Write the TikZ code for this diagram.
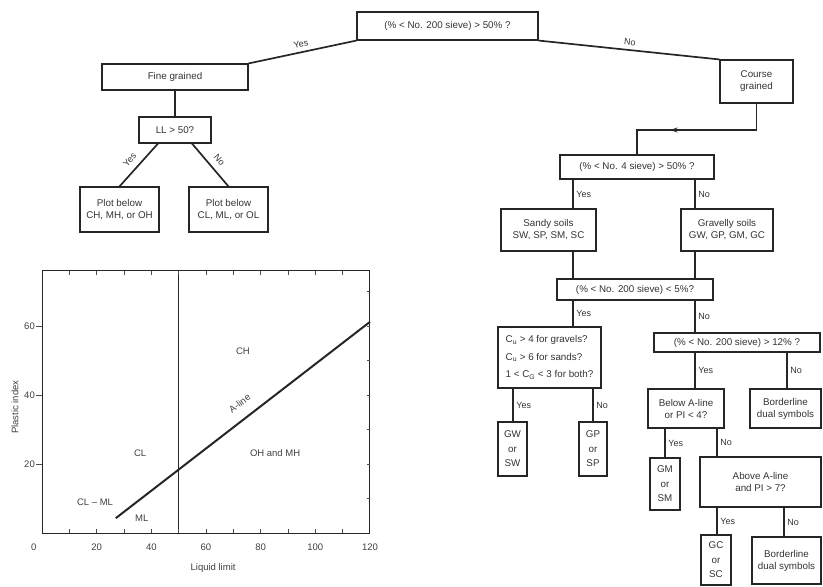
\documentclass[tikz,border=0pt]{standalone}
\usepackage{fontspec}
\setmainfont{Liberation Sans}
\usetikzlibrary{calc,arrows.meta}
\begin{document}
\begin{tikzpicture}[x=1pt,y=-1pt,
  box/.style={draw=black!85, line width=1.1pt, inner sep=1pt, align=center,
    font=\fontsize{9.8}{12}\selectfont, text=black!80},
  conn/.style={draw=black!85, line width=1.7pt},
  lbl/.style={font=\fontsize{9}{10}\selectfont, text=black!80, inner sep=2.5pt},
  slbl/.style={font=\fontsize{9}{10}\selectfont, text=black!80, inner sep=4pt},
  dlbl/.style={font=\fontsize{9}{10}\selectfont, text=black!80, inner sep=1pt},
  axl/.style={font=\fontsize{9.5}{11}\selectfont, text=black!75, inner sep=1pt},
  ]
\useasboundingbox (0,0) rectangle (823,587);

% ---- top part ----
\node[box, minimum width=181pt, minimum height=28pt] (top) at (447.5,26) {(\% < No. 200 sieve) > 50\% ?};
\node[box, minimum width=146pt, minimum height=26pt] (fine) at (175,77) {Fine grained};
\node[box, minimum width=73pt, minimum height=43pt] (coarse) at (756.5,81.5) {Course\\grained};
\node[box, minimum width=72pt, minimum height=26pt] (LL) at (175,130) {LL > 50?};
\node[box, minimum width=79pt, minimum height=45pt] (plotCH) at (119.5,209.5) {Plot below\\CH, MH, or OH};
\node[box, minimum width=79pt, minimum height=45pt] (plotCL) at (228.5,209.5) {Plot below\\CL, ML, or OL};

\draw[conn] (top.south west) -- node[slbl, sloped, above] {Yes} (fine.north east);
\draw[conn] (top.south east) -- node[slbl, sloped, above] {No} (coarse.north west);
\draw[conn] (fine.south) -- (LL.north);
\draw[conn] ($(LL.south)+(-17,0)$) -- (plotCH.north);
\draw[conn] ($(LL.south)+(17,0)$) -- (plotCL.north);
\node[dlbl, rotate=50] (llyes) at ($($(LL.south)+(-17,0)$)!0.45!(plotCH.north)+(-11,-3)$) {Yes};
\node[dlbl, rotate=-50] (llno) at ($($(LL.south)+(17,0)$)!0.45!(plotCL.north)+(11,-3)$) {No};

% ---- right tree ----
\node[box, minimum width=154pt, minimum height=24pt] (q4) at (637,167) {(\% < No. 4 sieve) > 50\% ?};
\node[box, minimum width=95pt, minimum height=42pt] (sandy) at (548.5,230) {Sandy soils\\SW, SP, SM, SC};
\node[box, minimum width=92pt, minimum height=42pt] (gravel) at (727,230) {Gravelly soils\\GW, GP, GM, GC};
\node[box, minimum width=156pt, minimum height=21pt] (q5) at (635,289.5) {(\% < No. 200 sieve) < 5\%?};
\node[box, minimum width=103pt, minimum height=61pt, align=left, font=\fontsize{9.8}{17.5}\selectfont] (cu) at (549.5,357.5)
  {C\textsubscript{u} > 4 for gravels?\\C\textsubscript{u} > 6 for sands?\\1 < C\textsubscript{G} < 3 for both?};
\node[box, minimum width=166pt, minimum height=19pt] (q12) at (737,342.5) {(\% < No. 200 sieve) > 12\% ?};
\node[box, minimum width=29pt, minimum height=54pt, font=\fontsize{9.8}{14.5}\selectfont] (gw) at (512.5,449) {GW\\or\\SW};
\node[box, minimum width=28pt, minimum height=54pt, font=\fontsize{9.8}{14.5}\selectfont] (gp) at (593,449) {GP\\or\\SP};
\node[box, minimum width=76pt, minimum height=39pt] (belowA) at (686,408.5) {Below A-line\\or PI < 4?};
\node[box, minimum width=71pt, minimum height=39pt] (border1) at (785.5,408.5) {Borderline\\dual symbols};
\node[box, minimum width=30pt, minimum height=52pt, font=\fontsize{9.8}{14.5}\selectfont] (gm) at (665,484) {GM\\or\\SM};
\node[box, minimum width=121pt, minimum height=50pt] (aboveA) at (760.5,482) {Above A-line\\and PI > 7?};
\node[box, minimum width=30pt, minimum height=50pt, font=\fontsize{9.8}{14.5}\selectfont] (gc) at (716,560) {GC\\or\\SC};
\node[box, minimum width=69pt, minimum height=47pt] (border2) at (786.5,560.5) {Borderline\\dual symbols};

\coordinate (bend) at (637,130);
\draw[conn] (coarse.south) |- (bend) -- (q4.north);
\draw[conn, -{Stealth[length=7pt,width=5pt]}] (coarse.south |- bend) -- ($(coarse.south |- bend)!0.72!(bend)$);

\coordinate (xA) at (573,0);
\coordinate (xB) at (695,0);
\coordinate (xC) at (513,0);
\coordinate (xD) at (593,0);
\coordinate (xF) at (787,0);
\coordinate (xG) at (665,0);
\coordinate (xH) at (717,0);
\coordinate (xI) at (784,0);

\draw[conn] (q4.south -| xA) -- node[lbl,right]{Yes} (sandy.north -| xA);
\draw[conn] (q4.south -| xB) -- node[lbl,right]{No} (gravel.north -| xB);
\draw[conn] (sandy.south -| xA) -- (q5.north -| xA);
\draw[conn] (gravel.south -| xB) -- (q5.north -| xB);
\draw[conn] (q5.south -| xA) -- node[lbl,right]{Yes} (cu.north -| xA);
\draw[conn] (q5.south -| xB) -- node[lbl,right]{No} (q12.north -| xB);
\draw[conn] (cu.south -| xC) -- node[lbl,right]{Yes} (gw.north -| xC);
\draw[conn] (cu.south -| xD) -- node[lbl,right]{No} (gp.north -| xD);
\draw[conn] (q12.south -| xB) -- node[lbl,right]{Yes} (belowA.north -| xB);
\draw[conn] (q12.south -| xF) -- node[lbl,right]{No} (border1.north -| xF);
\draw[conn] (belowA.south -| xG) -- node[lbl,right]{Yes} (gm.north -| xG);
\draw[conn] (belowA.south -| xH) -- node[lbl,right]{No} (aboveA.north -| xH);
\draw[conn] (aboveA.south -| xH) -- node[lbl,right]{Yes} (gc.north -| xH);
\draw[conn] (aboveA.south -| xI) -- node[lbl,right]{No} (border2.north -| xI);

% ---- plasticity chart ----
\begin{scope}[shift={(42,533)}, x=2.733pt, y=3.45pt]
  \draw[line width=1pt, black!85] (0,0) rectangle (120,76);
  \draw[line width=0.9pt, black!85] (50,0) -- (50,76);
  \foreach \i in {10,20,...,110} {
    \draw[black!70, line width=0.6pt] (\i,0) -- (\i,1.1);
    \draw[black!70, line width=0.6pt] (\i,76) -- (\i,74.9);
  }
  \foreach \j in {10,20,...,70} \draw[black!70, line width=0.6pt] (120,\j) -- (118.8,\j);
  \foreach \j/\n in {20/y20,40/y40,60/y60} {
    \draw[black!70, line width=0.6pt] (-2.2,\j) -- (0,\j);
    \node[axl, anchor=east] (\n) at (-2.2,\j) {\j};
  }
  \foreach \v/\p/\n in {0/-3/x0,20/20/x20,40/40/x40,60/60/x60,80/80/x80,100/100/x100,120/120/x120}
    \node[axl] (\n) at (\p,-4.2) {\v};
  \node[axl] (xlab) at (62.6,-10.1) {Liquid limit};
  \node[axl, rotate=90] (ylab) at (-9.9,36.5) {Plastic index};
  \draw[line width=2pt, black!85] (27,4.3) -- (120,61.2);
  \node[axl] (chl) at (73.5,52.8) {CH};
  \node[axl] (cll) at (35.9,23.2) {CL};
  \node[axl] (ohl) at (85.3,23.2) {OH and MH};
  \node[axl, rotate=37.7] (alab) at (72.3,37.6) {A-line};
  \node[axl] (clml) at (19.4,9) {CL -- ML};
  \node[axl] (mll) at (36.5,4.2) {ML};
\end{scope}
\end{tikzpicture}
\end{document}
